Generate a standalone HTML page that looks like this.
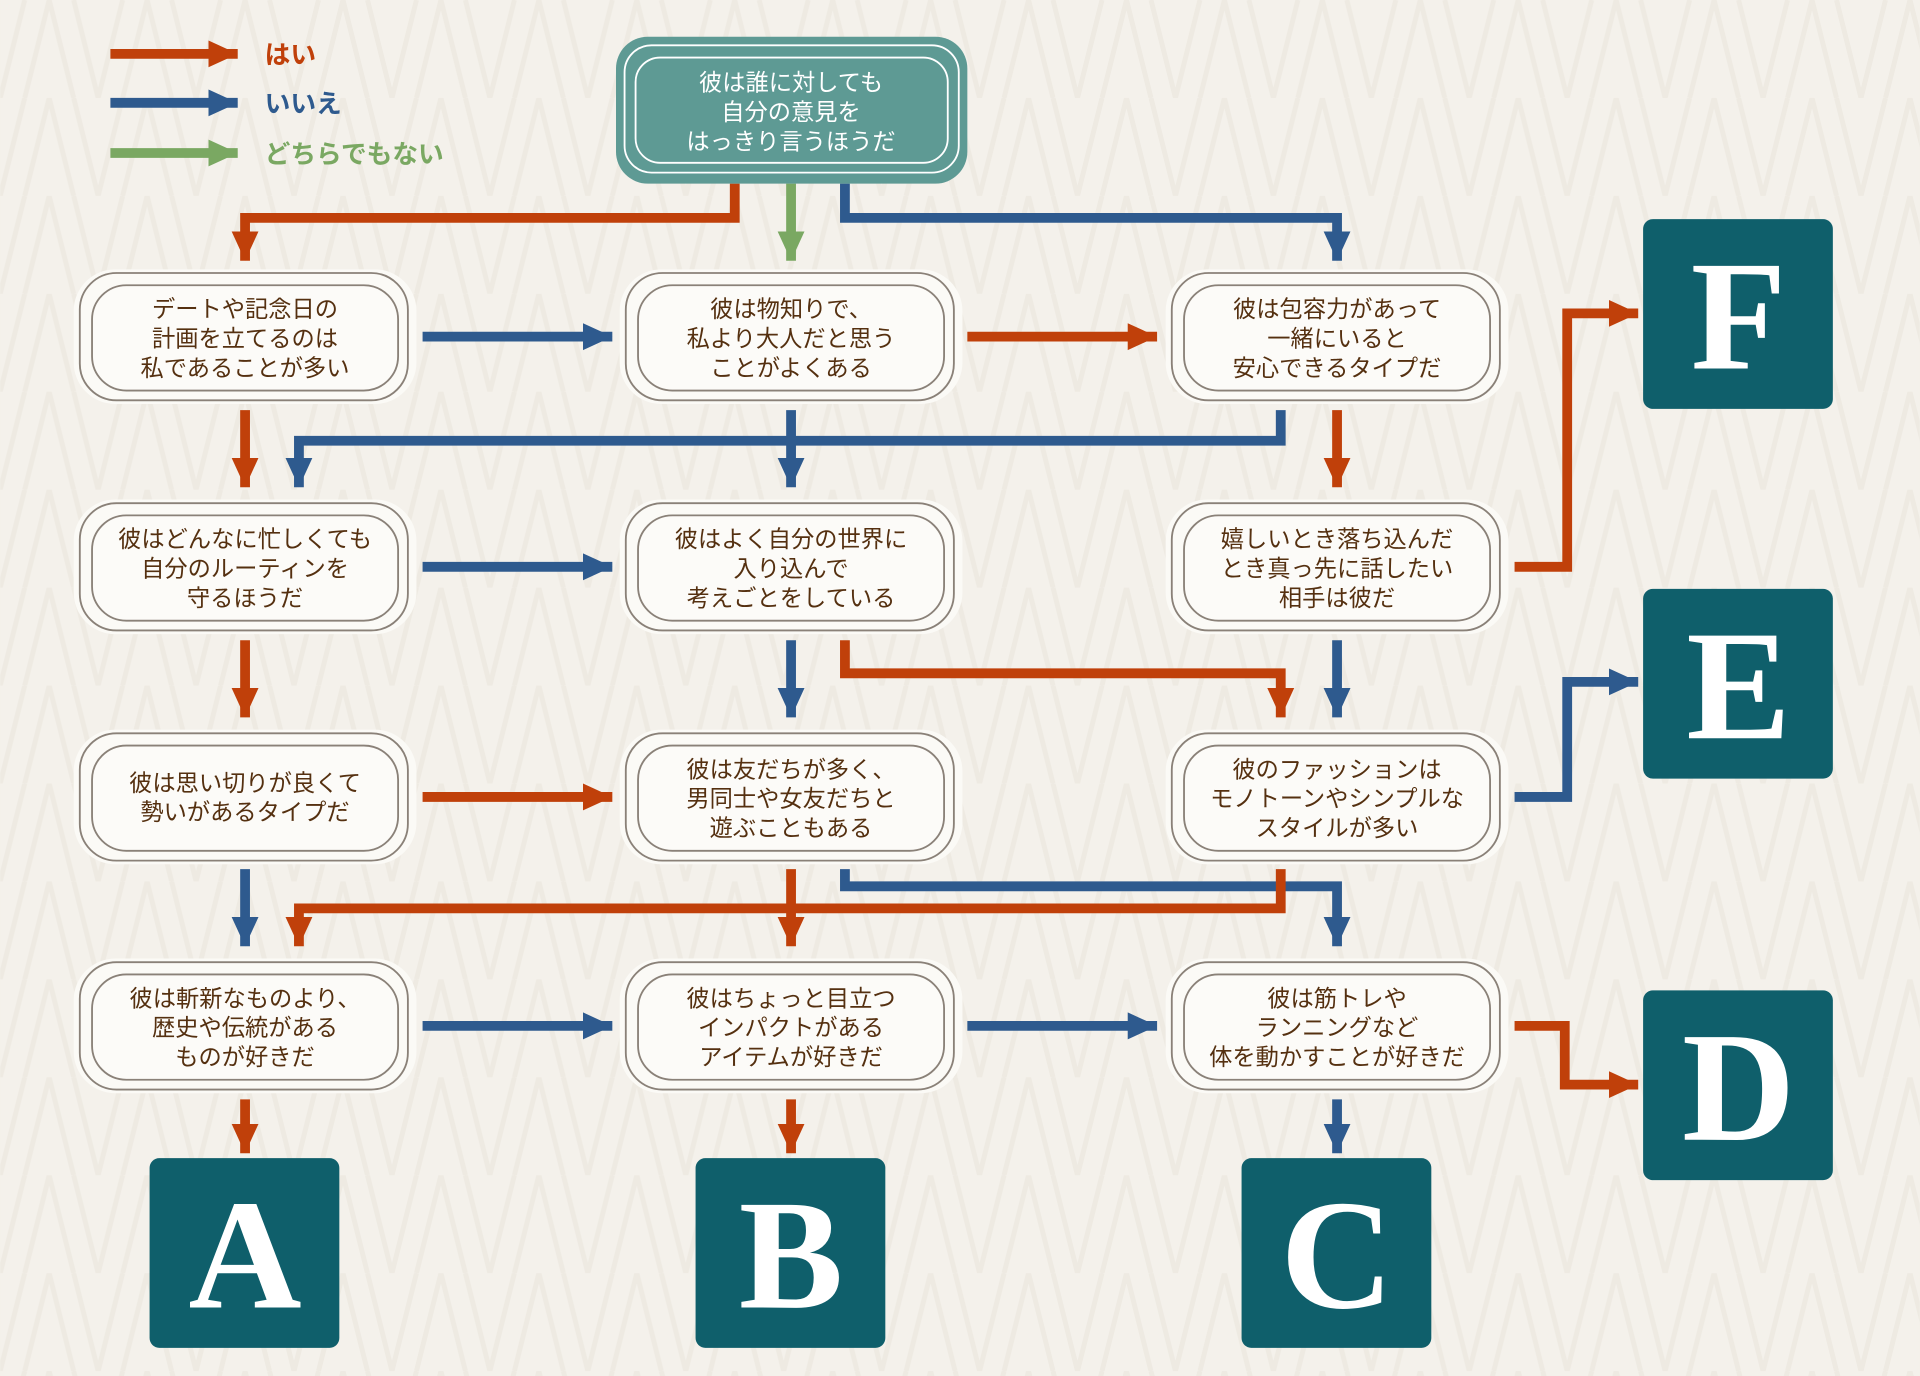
<!DOCTYPE html>
<html><head><meta charset="utf-8"><style>
html,body{margin:0;padding:0;background:#f3f0e9;}
svg{display:block;}
text{font-family:"Liberation Sans","Noto Sans CJK JP",sans-serif;}
.t{fill:#553010;font-size:19px;text-anchor:middle;}
.L{font-family:"Liberation Serif",serif;font-weight:bold;fill:#fff;font-size:128px;text-anchor:middle;}
.o{stroke:#c0400a;stroke-width:8;fill:none;}
.b{stroke:#2e5a8e;stroke-width:8;fill:none;}
.g{stroke:#7aa862;stroke-width:8;fill:none;}
</style></head><body>
<svg width="1920" height="1376" viewBox="0 0 1568 1124" xmlns="http://www.w3.org/2000/svg">
<defs>
<marker id="mo" markerUnits="userSpaceOnUse" markerWidth="28" markerHeight="26" refX="24" refY="13" orient="auto"><path d="M0,2 L24,13 L0,24 Z" fill="#c0400a"/></marker>
<marker id="mb" markerUnits="userSpaceOnUse" markerWidth="28" markerHeight="26" refX="24" refY="13" orient="auto"><path d="M0,2 L24,13 L0,24 Z" fill="#2e5a8e"/></marker>
<marker id="mg" markerUnits="userSpaceOnUse" markerWidth="28" markerHeight="26" refX="24" refY="13" orient="auto"><path d="M0,2 L24,13 L0,24 Z" fill="#7aa862"/></marker>
<pattern id="bg" width="80" height="80" patternUnits="userSpaceOnUse">
<rect width="80" height="80" fill="#f4f1eb"/>
<path d="M0,80 L20,0 M20,80 L40,0 M40,0 L60,80 M60,0 L80,80" stroke="#eeeae2" stroke-width="4"/>
</pattern>
<g id="node">
<rect x="-140" y="-55" width="280" height="110" rx="34" fill="#fbfaf6"/>
<rect x="-135" y="-52" width="268" height="104" rx="30" fill="none" stroke="#8a8178" stroke-width="1.5"/>
<rect x="-125" y="-42" width="250" height="86" rx="28" fill="#fcfbf8" stroke="#8a8178" stroke-width="1.5"/>
</g>
</defs>
<rect width="1568" height="1124" fill="url(#bg)"/>

<line x1="90" y1="44" x2="194" y2="44" class="o" marker-end="url(#mo)"/>
<line x1="90" y1="84" x2="194" y2="84" class="b" marker-end="url(#mb)"/>
<line x1="90" y1="125" x2="194" y2="125" class="g" marker-end="url(#mg)"/>
<text x="216" y="52" font-size="21" fill="#c0400a" font-weight="bold">はい</text>
<text x="216" y="92" font-size="21" fill="#2e5a8e" font-weight="bold">いいえ</text>
<text x="216" y="133" font-size="21" fill="#7aa862" font-weight="bold">どちらでもない</text>

<polyline points="600,150 600,178 200,178 200,213" class="o" marker-end="url(#mo)"/>
<polyline points="646,150 646,213" class="g" marker-end="url(#mg)"/>
<polyline points="690,150 690,178 1092,178 1092,213" class="b" marker-end="url(#mb)"/>

<line x1="345" y1="275" x2="500" y2="275" class="b" marker-end="url(#mb)"/>
<line x1="790" y1="275" x2="945" y2="275" class="o" marker-end="url(#mo)"/>

<polyline points="200,335 200,398" class="o" marker-end="url(#mo)"/>
<polyline points="646,335 646,398" class="b" marker-end="url(#mb)"/>
<polyline points="1046,335 1046,360 244,360 244,398" class="b" marker-end="url(#mb)"/>
<polyline points="1092,335 1092,398" class="o" marker-end="url(#mo)"/>

<line x1="345" y1="463" x2="500" y2="463" class="b" marker-end="url(#mb)"/>
<polyline points="1237,463 1280,463 1280,256 1338,256" class="o" marker-end="url(#mo)"/>

<polyline points="200,523 200,586" class="o" marker-end="url(#mo)"/>
<polyline points="646,523 646,586" class="b" marker-end="url(#mb)"/>
<polyline points="690,523 690,550 1046,550 1046,586" class="o" marker-end="url(#mo)"/>
<polyline points="1092,523 1092,586" class="b" marker-end="url(#mb)"/>

<line x1="345" y1="651" x2="500" y2="651" class="o" marker-end="url(#mo)"/>
<polyline points="1237,651 1280,651 1280,557 1338,557" class="b" marker-end="url(#mb)"/>

<polyline points="200,710 200,773" class="b" marker-end="url(#mb)"/>
<polyline points="690,710 690,724 1092,724 1092,773" class="b" marker-end="url(#mb)"/>
<polyline points="1046,710 1046,742 244,742 244,773" class="o" marker-end="url(#mo)"/>
<polyline points="646,710 646,773" class="o" marker-end="url(#mo)"/>

<line x1="345" y1="838" x2="500" y2="838" class="b" marker-end="url(#mb)"/>
<line x1="790" y1="838" x2="945" y2="838" class="b" marker-end="url(#mb)"/>
<polyline points="1237,838 1278,838 1278,886 1338,886" class="o" marker-end="url(#mo)"/>

<polyline points="200,898 200,942" class="o" marker-end="url(#mo)"/>
<polyline points="646,898 646,942" class="o" marker-end="url(#mo)"/>
<polyline points="1092,898 1092,942" class="b" marker-end="url(#mb)"/>

<rect x="503" y="30" width="287" height="120" rx="26" fill="#5e9a94"/>
<rect x="510" y="37" width="273" height="104" rx="22" fill="none" stroke="#fff" stroke-width="1.5"/>
<rect x="519" y="47" width="255" height="86" rx="20" fill="none" stroke="#fff" stroke-width="1.5"/>
<text x="646" y="74" font-size="19" fill="#fff" text-anchor="middle">彼は誰に対しても</text>
<text x="646" y="98" font-size="19" fill="#fff" text-anchor="middle">自分の意見を</text>
<text x="646" y="122" font-size="19" fill="#fff" text-anchor="middle">はっきり言うほうだ</text>

<use href="#node" x="200" y="275"/><use href="#node" x="646" y="275"/><use href="#node" x="1092" y="275"/>
<use href="#node" x="200" y="463"/><use href="#node" x="646" y="463"/><use href="#node" x="1092" y="463"/>
<use href="#node" x="200" y="651"/><use href="#node" x="646" y="651"/><use href="#node" x="1092" y="651"/>
<use href="#node" x="200" y="838"/><use href="#node" x="646" y="838"/><use href="#node" x="1092" y="838"/>

<text class="t" x="200" y="259">デートや記念日の</text><text class="t" x="200" y="283">計画を立てるのは</text><text class="t" x="200" y="307">私であることが多い</text>
<text class="t" x="646" y="259">彼は物知りで、</text><text class="t" x="646" y="283">私より大人だと思う</text><text class="t" x="646" y="307">ことがよくある</text>
<text class="t" x="1092" y="259">彼は包容力があって</text><text class="t" x="1092" y="283">一緒にいると</text><text class="t" x="1092" y="307">安心できるタイプだ</text>

<text class="t" x="200" y="447">彼はどんなに忙しくても</text><text class="t" x="200" y="471">自分のルーティンを</text><text class="t" x="200" y="495">守るほうだ</text>
<text class="t" x="646" y="447">彼はよく自分の世界に</text><text class="t" x="646" y="471">入り込んで</text><text class="t" x="646" y="495">考えごとをしている</text>
<text class="t" x="1092" y="447">嬉しいとき落ち込んだ</text><text class="t" x="1092" y="471">とき真っ先に話したい</text><text class="t" x="1092" y="495">相手は彼だ</text>

<text class="t" x="200" y="646">彼は思い切りが良くて</text><text class="t" x="200" y="670">勢いがあるタイプだ</text>
<text class="t" x="646" y="635">彼は友だちが多く、</text><text class="t" x="646" y="659">男同士や女友だちと</text><text class="t" x="646" y="683">遊ぶこともある</text>
<text class="t" x="1092" y="635">彼のファッションは</text><text class="t" x="1092" y="659">モノトーンやシンプルな</text><text class="t" x="1092" y="683">スタイルが多い</text>

<text class="t" x="200" y="822">彼は斬新なものより、</text><text class="t" x="200" y="846">歴史や伝統がある</text><text class="t" x="200" y="870">ものが好きだ</text>
<text class="t" x="646" y="822">彼はちょっと目立つ</text><text class="t" x="646" y="846">インパクトがある</text><text class="t" x="646" y="870">アイテムが好きだ</text>
<text class="t" x="1092" y="822">彼は筋トレや</text><text class="t" x="1092" y="846">ランニングなど</text><text class="t" x="1092" y="870">体を動かすことが好きだ</text>

<rect x="122" y="946" width="155" height="155" rx="8" fill="#0f5f6b"/><text class="L" x="200" y="1068">A</text>
<rect x="568" y="946" width="155" height="155" rx="8" fill="#0f5f6b"/><text class="L" x="646" y="1068">B</text>
<rect x="1014" y="946" width="155" height="155" rx="8" fill="#0f5f6b"/><text class="L" x="1092" y="1068">C</text>
<rect x="1342" y="809" width="155" height="155" rx="8" fill="#0f5f6b"/><text class="L" x="1420" y="931">D</text>
<rect x="1342" y="481" width="155" height="155" rx="8" fill="#0f5f6b"/><text class="L" x="1420" y="603">E</text>
<rect x="1342" y="179" width="155" height="155" rx="8" fill="#0f5f6b"/><text class="L" x="1420" y="301">F</text>
</svg>
</body></html>
